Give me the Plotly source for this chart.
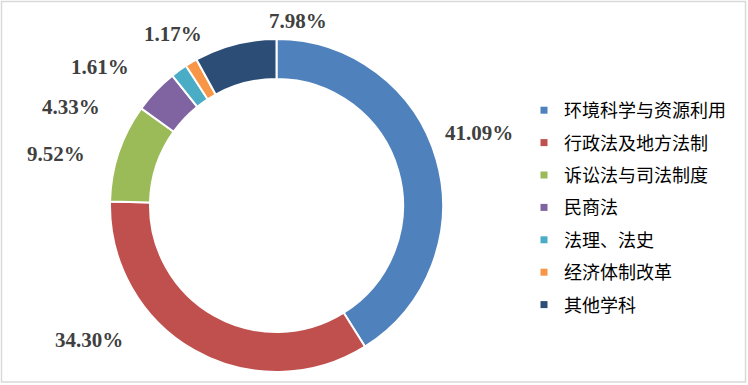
import plotly.graph_objects as go

categories = ["环境科学与资源利用", "行政法及地方法制", "诉讼法与司法制度", "民商法",
              "法理、法史", "经济体制改革", "其他学科"]
values = [41.09, 34.30, 9.52, 4.33, 1.61, 1.17, 7.98]
colors = ["#4F81BD", "#C0504D", "#9BBB59", "#8064A2", "#4BACC6", "#F79646", "#2C4D75"]
# label placement (pixels) for the outside percentage labels
label_x = [479, 89, 56, 71, 100, 173, 298]
label_y = [133, 340, 154, 107, 67, 34, 21]

W, H = 748, 385
CX, CY, R = 276.5, 205.5, 166.5

fig = go.Figure(go.Pie(
    labels=categories, values=values, sort=False, direction="clockwise", rotation=0,
    hole=0.76, textinfo="none", hoverinfo="label+percent", showlegend=False,
    marker=dict(colors=colors, line=dict(color="white", width=2)),
    domain=dict(x=[(CX - R) / W, (CX + R) / W], y=[(H - CY - R) / H, (H - CY + R) / H]),
))

# legend entries (one group each so the rows can be spaced like the original)
for i, (c, col) in enumerate(zip(categories, colors)):
    fig.add_trace(go.Scatter(x=[None], y=[None], mode="markers", name=c,
                             legendgroup=f"g{i}", hoverinfo="skip",
                             marker=dict(symbol="square", size=7, color=col)))

for v, lx, ly in zip(values, label_x, label_y):
    fig.add_annotation(x=lx / W, y=1 - ly / H, xref="paper", yref="paper",
                       text=f"{v:.2f}%", showarrow=False, xanchor="center", yanchor="middle",
                       font=dict(family="Liberation Serif", size=21, color="#404040", weight="bold"))

fig.add_shape(type="rect", xref="paper", yref="paper", x0=1.5 / W, x1=1 - 2.5 / W,
              y0=3 / H, y1=1 - 1.5 / H, line=dict(color="#D9D9D9", width=1.5))

fig.update_layout(
    width=W, height=H, margin=dict(l=0, r=0, t=0, b=0),
    paper_bgcolor="white", plot_bgcolor="white",
    xaxis=dict(visible=False), yaxis=dict(visible=False),
    showlegend=True,
    legend=dict(x=524 / W, y=1 - 207.5 / H, xanchor="left", yanchor="middle",
                font=dict(family="Noto Sans CJK SC", size=18, color="#000000"),
                itemwidth=30, tracegroupgap=6, bgcolor="rgba(0,0,0,0)"),
)

fig.write_html("out.html", config={"displayModeBar": False},
               post_script="document.body.style.margin='0';document.body.style.overflow='hidden';")
